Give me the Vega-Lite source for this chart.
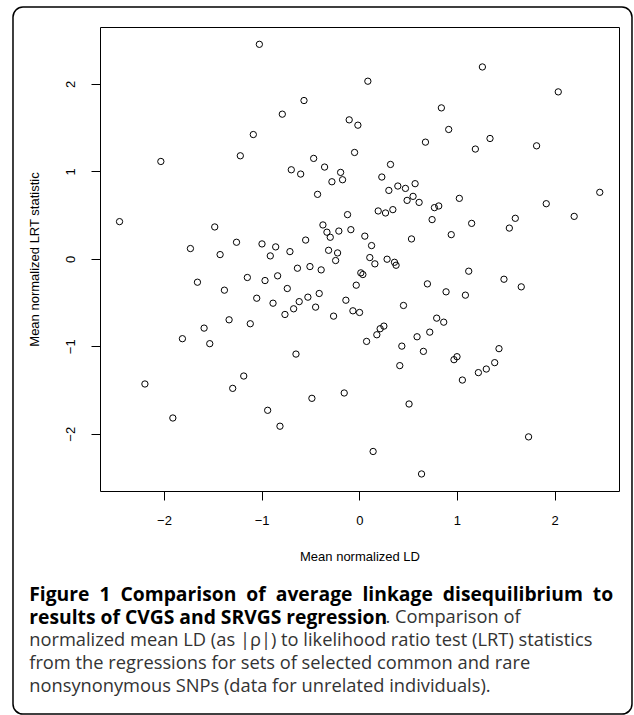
{
  "$schema": "https://vega.github.io/schema/vega-lite/v6.json",
  "autosize": {"type": "none"},
  "padding": {"left": 100, "top": 27, "right": 15, "bottom": 224},
  "width": 519,
  "height": 464,
  "background": "white",
  "config": {"view": {"stroke": "#000", "strokeWidth": 1, "fill": null}},
  "title": {
    "text": ["Figure \u00a01 \u00a0Comparison \u00a0of \u00a0average \u00a0linkage \u00a0disequilibrium \u00a0to", "results of CVGS and SRVGS regression"],
    "subtitle": ["\u200b\u00a0\u00a0\u00a0\u00a0\u00a0\u00a0\u00a0\u00a0\u00a0\u00a0\u00a0\u00a0\u00a0\u00a0\u00a0\u00a0\u00a0\u00a0\u00a0\u00a0\u00a0\u00a0\u00a0\u00a0\u00a0\u00a0\u00a0\u00a0\u00a0\u00a0\u00a0\u00a0\u00a0\u00a0\u00a0\u00a0\u00a0\u00a0\u00a0\u00a0\u00a0\u00a0\u00a0\u00a0\u00a0\u00a0\u00a0\u00a0\u00a0\u00a0\u00a0\u00a0\u00a0\u00a0\u00a0\u00a0\u00a0\u00a0\u00a0\u00a0\u00a0\u00a0\u00a0\u00a0\u00a0\u00a0\u00a0\u00a0\u00a0\u00a0\u00a0\u00a0\u00a0\u00a0\u00a0. Comparison of", "normalized mean LD (as |ρ|) to likelihood ratio test (LRT) statistics", "from the regressions for sets of selected common and rare", "nonsynonymous SNPs (data for unrelated individuals)."],
    "orient": "bottom",
    "anchor": "start",
    "frame": "bounds",
    "offset": -129,
    "dx": 17,
    "font": "Open Sans",
    "fontSize": 19.3,
    "fontWeight": "bold",
    "color": "#000",
    "lineHeight": 22.75,
    "subtitleFont": "Open Sans",
    "subtitleFontSize": 18.3,
    "subtitleFontWeight": "normal",
    "subtitleColor": "#333",
    "subtitleLineHeight": 22.75,
    "subtitlePadding": -18.5
  },
  "layer": [
    {
      "data": {"values": [{"part": "frame"}]},
      "mark": {"type": "rect", "filled": false, "stroke": "#000", "strokeWidth": 1.5, "cornerRadius": 10, "clip": false},
      "encoding": {
        "x": {"datum": -3.546, "type": "quantitative", "scale": {"domain": [-2.655, 2.66], "nice": false, "zero": false}},
        "x2": {"datum": 2.793},
        "y": {"datum": 2.881, "type": "quantitative", "scale": {"domain": [-2.655, 2.652], "nice": false, "zero": false}},
        "y2": {"datum": -5.206}
      }
    },
    {
      "data": {"values": [
        {"ld": -1.023, "lrt": 2.454}, {"ld": -0.788, "lrt": 1.655}, {"ld": -1.085, "lrt": 1.422}, {"ld": -1.218, "lrt": 1.179},
        {"ld": -2.032, "lrt": 1.114}, {"ld": -0.696, "lrt": 1.019}, {"ld": -0.6, "lrt": 0.97}, {"ld": -2.455, "lrt": 0.426},
        {"ld": -1.48, "lrt": 0.365}, {"ld": -1.257, "lrt": 0.19}, {"ld": 1.261, "lrt": 2.195}, {"ld": 0.088, "lrt": 2.032},
        {"ld": -0.566, "lrt": 1.811}, {"ld": 0.841, "lrt": 1.727}, {"ld": -0.103, "lrt": 1.59}, {"ld": -0.014, "lrt": 1.529},
        {"ld": 0.916, "lrt": 1.48}, {"ld": 1.339, "lrt": 1.377}, {"ld": 0.678, "lrt": 1.335}, {"ld": 1.189, "lrt": 1.256},
        {"ld": -0.048, "lrt": 1.217}, {"ld": -0.467, "lrt": 1.149}, {"ld": -0.355, "lrt": 1.05}, {"ld": -0.191, "lrt": 0.989},
        {"ld": -0.171, "lrt": 0.905}, {"ld": -0.28, "lrt": 0.882}, {"ld": 0.32, "lrt": 1.08}, {"ld": 0.231, "lrt": 0.936},
        {"ld": -0.427, "lrt": 0.738}, {"ld": 0.303, "lrt": 0.783}, {"ld": 0.395, "lrt": 0.833}, {"ld": 0.473, "lrt": 0.806},
        {"ld": 0.572, "lrt": 0.86}, {"ld": 0.49, "lrt": 0.669}, {"ld": 0.551, "lrt": 0.715}, {"ld": 0.613, "lrt": 0.646},
        {"ld": 1.025, "lrt": 0.692}, {"ld": 0.77, "lrt": 0.586}, {"ld": 0.814, "lrt": 0.605}, {"ld": 0.746, "lrt": 0.449},
        {"ld": 1.151, "lrt": 0.406}, {"ld": 1.598, "lrt": 0.464}, {"ld": 1.537, "lrt": 0.352}, {"ld": 0.194, "lrt": 0.548},
        {"ld": 0.269, "lrt": 0.525}, {"ld": 0.344, "lrt": 0.563}, {"ld": -0.12, "lrt": 0.506}, {"ld": -0.372, "lrt": 0.388},
        {"ld": -0.331, "lrt": 0.305}, {"ld": -0.297, "lrt": 0.247}, {"ld": -0.209, "lrt": 0.318}, {"ld": -0.086, "lrt": 0.334},
        {"ld": 0.057, "lrt": 0.26}, {"ld": 0.942, "lrt": 0.277}, {"ld": 0.535, "lrt": 0.228}, {"ld": -0.549, "lrt": 0.215},
        {"ld": 2.038, "lrt": 1.91}, {"ld": 1.816, "lrt": 1.293}, {"ld": 2.463, "lrt": 0.761}, {"ld": 1.915, "lrt": 0.631},
        {"ld": 2.201, "lrt": 0.486}, {"ld": -1.729, "lrt": 0.118}, {"ld": -0.996, "lrt": 0.171}, {"ld": -0.856, "lrt": 0.137},
        {"ld": -0.911, "lrt": 0.034}, {"ld": -0.71, "lrt": 0.083}, {"ld": -1.425, "lrt": 0.049}, {"ld": -0.633, "lrt": -0.107},
        {"ld": -1.657, "lrt": -0.267}, {"ld": -1.146, "lrt": -0.213}, {"ld": -0.965, "lrt": -0.248}, {"ld": -0.836, "lrt": -0.194},
        {"ld": -1.381, "lrt": -0.358}, {"ld": -0.737, "lrt": -0.339}, {"ld": -1.05, "lrt": -0.45}, {"ld": -0.883, "lrt": -0.507},
        {"ld": -0.615, "lrt": -0.489}, {"ld": -0.672, "lrt": -0.571}, {"ld": -0.761, "lrt": -0.636}, {"ld": -1.333, "lrt": -0.697},
        {"ld": -1.116, "lrt": -0.742}, {"ld": -1.589, "lrt": -0.792}, {"ld": -1.811, "lrt": -0.913}, {"ld": -1.531, "lrt": -0.97},
        {"ld": -0.648, "lrt": -1.089}, {"ld": -2.195, "lrt": -1.431}, {"ld": -1.183, "lrt": -1.34}, {"ld": -1.296, "lrt": -1.481},
        {"ld": -1.909, "lrt": -1.82}, {"ld": -0.938, "lrt": -1.732}, {"ld": -0.812, "lrt": -1.914}, {"ld": -0.314, "lrt": 0.098},
        {"ld": -0.222, "lrt": 0.068}, {"ld": -0.242, "lrt": -0.019}, {"ld": -0.505, "lrt": -0.088}, {"ld": -0.39, "lrt": -0.126},
        {"ld": 0.126, "lrt": 0.152}, {"ld": 0.108, "lrt": 0.015}, {"ld": 0.16, "lrt": -0.057}, {"ld": 0.285, "lrt": -0.004},
        {"ld": 0.361, "lrt": -0.039}, {"ld": 0.377, "lrt": -0.073}, {"ld": 0.016, "lrt": -0.16}, {"ld": 0.037, "lrt": -0.179},
        {"ld": 1.121, "lrt": -0.141}, {"ld": 1.482, "lrt": -0.233}, {"ld": 1.659, "lrt": -0.32}, {"ld": 0.698, "lrt": -0.286},
        {"ld": 0.889, "lrt": -0.377}, {"ld": 1.087, "lrt": -0.415}, {"ld": -0.031, "lrt": -0.301}, {"ld": -0.41, "lrt": -0.396},
        {"ld": -0.526, "lrt": -0.438}, {"ld": -0.447, "lrt": -0.552}, {"ld": -0.263, "lrt": -0.655}, {"ld": -0.137, "lrt": -0.473},
        {"ld": -0.065, "lrt": -0.594}, {"ld": 0.003, "lrt": -0.613}, {"ld": 0.453, "lrt": -0.533}, {"ld": 0.793, "lrt": -0.678},
        {"ld": 0.865, "lrt": -0.724}, {"ld": 0.722, "lrt": -0.838}, {"ld": 0.592, "lrt": -0.891}, {"ld": 0.252, "lrt": -0.769},
        {"ld": 0.214, "lrt": -0.799}, {"ld": 0.18, "lrt": -0.868}, {"ld": 0.075, "lrt": -0.944}, {"ld": 0.436, "lrt": -0.998},
        {"ld": 0.657, "lrt": -1.058}, {"ld": 0.415, "lrt": -1.221}, {"ld": 1.001, "lrt": -1.119}, {"ld": 0.97, "lrt": -1.153},
        {"ld": 1.431, "lrt": -1.027}, {"ld": 1.387, "lrt": -1.187}, {"ld": 1.301, "lrt": -1.26}, {"ld": 1.22, "lrt": -1.301},
        {"ld": 1.056, "lrt": -1.386}, {"ld": -0.485, "lrt": -1.595}, {"ld": -0.154, "lrt": -1.534}, {"ld": 0.51, "lrt": -1.66},
        {"ld": 0.142, "lrt": -2.203}, {"ld": 1.734, "lrt": -2.036}, {"ld": 0.638, "lrt": -2.46}
      ]},
      "mark": {"type": "point", "shape": "circle", "filled": false, "size": 40, "stroke": "#000", "strokeWidth": 1, "opacity": 1},
      "encoding": {
        "x": {
          "field": "ld", "type": "quantitative",
          "axis": {"title": "Mean normalized LD", "values": [-2, -1, 0, 1, 2], "format": "d", "grid": false, "domain": false,
            "tickSize": 9, "tickColor": "#000", "tickWidth": 1, "labelFont": "Liberation Sans", "labelFontSize": 13,
            "labelColor": "#000", "labelPadding": 14, "titleFont": "Liberation Sans", "titleFontSize": 13,
            "titleFontWeight": "normal", "titleColor": "#000", "titlePadding": 23}
        },
        "y": {
          "field": "lrt", "type": "quantitative",
          "axis": {"title": "Mean normalized LRT statistic", "values": [-2, -1, 0, 1, 2], "format": "d", "grid": false, "domain": false,
            "tickSize": 9, "tickColor": "#000", "tickWidth": 1, "labelFont": "Liberation Sans", "labelFontSize": 13,
            "labelColor": "#000", "labelPadding": 14, "labelAngle": -90, "labelAlign": "center", "labelBaseline": "bottom",
            "titleFont": "Liberation Sans", "titleFontSize": 13,
            "titleFontWeight": "normal", "titleColor": "#000", "titlePadding": 23}
        }
      }
    }
  ]
}
